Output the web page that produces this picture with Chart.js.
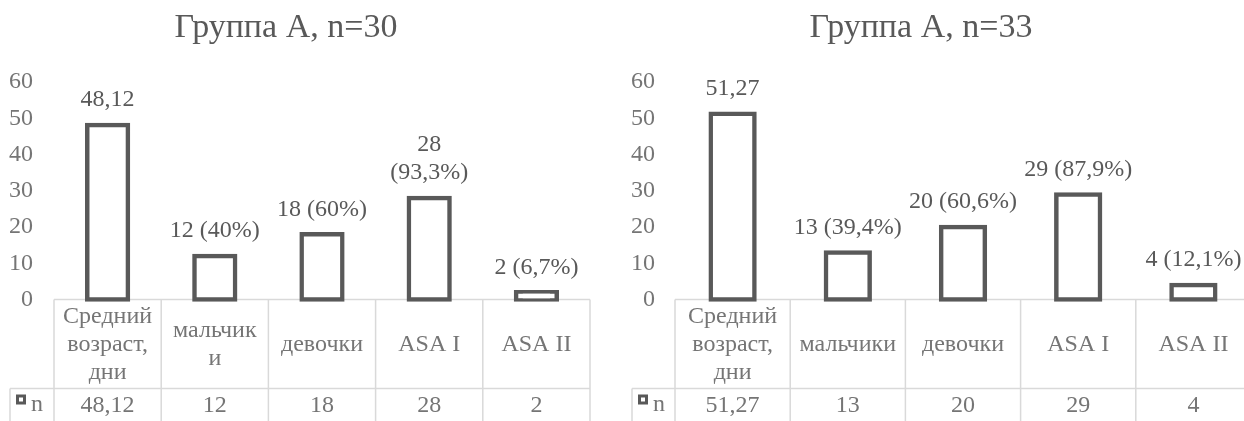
<!DOCTYPE html>
<html>
<head>
<meta charset="utf-8">
<script src="https://cdn.jsdelivr.net/npm/chart.js@4"></script>
<style>
    html, body {
        margin: 0;
        padding: 0;
        width: 1244px;
        height: 421px;
        overflow: hidden;
        background: #ffffff;
    }
    #chartA {
        position: absolute;
        left: -18px;
        top: 0;
    }
    #chartB {
        position: absolute;
        left: 591px;
        top: 0;
    }
</style>
</head>
<body>
<canvas id="chartA" width="612" height="421"></canvas>
<canvas id="chartB" width="664" height="421"></canvas>
<script>
// data
const seriesName = "n";
const yMax = 60;
const yStep = 10;

const titleA = "Группа А, n=30";
const categoriesA = [["Средний", "возраст,", "дни"], ["мальчик", "и"], ["девочки"], ["ASA I"], ["ASA II"]];
const valuesA = [48.12, 12, 18, 28, 2];
const barLabelsA = [["48,12"], ["12 (40%)"], ["18 (60%)"], ["28", "(93,3%)"], ["2 (6,7%)"]];
const tableRowA = ["48,12", "12", "18", "28", "2"];

const titleB = "Группа А, n=33";
const categoriesB = [["Средний", "возраст,", "дни"], ["мальчики"], ["девочки"], ["ASA I"], ["ASA II"]];
const valuesB = [51.27, 13, 20, 29, 4];
const barLabelsB = [["51,27"], ["13 (39,4%)"], ["20 (60,6%)"], ["29 (87,9%)"], ["4 (12,1%)"]];
const tableRowB = ["51,27", "13", "20", "29", "4"];

const FONT = "'Liberation Serif', 'Times New Roman', serif";
const barColor = "#595959";
const textColor = "#595959";
const lightText = "#757575";
const lineColor = "#d9d9d9";
const BORDER = 4.5;

/*Excel style data table under the plot, drawn from the x scale*/
const dataTablePlugin = {
    id: "dataTable",
    beforeDatasetsDraw(chart, args, opts) {
        const ctx = chart.ctx;
        const area = chart.chartArea;
        const xs = chart.scales.x;
        const n = opts.categories.length;
        const colW = xs.getPixelForValue(1) - xs.getPixelForValue(0);
        const top = area.bottom;
        const mid = top + opts.rowHeight;
        const bottom = chart.height + 2;

        ctx.save();
        ctx.strokeStyle = lineColor;
        ctx.lineWidth = 1.5;
        ctx.beginPath();
        ctx.moveTo(area.left, top);
        ctx.lineTo(area.right, top);
        ctx.moveTo(opts.legendLeft, mid);
        ctx.lineTo(area.right, mid);
        for (let i = 0; i <= n; i++) {
            let bx = xs.getPixelForValue(i) - colW / 2;
            ctx.moveTo(bx, top);
            ctx.lineTo(bx, bottom);
        }
        ctx.moveTo(opts.legendLeft, mid);
        ctx.lineTo(opts.legendLeft, bottom);
        ctx.stroke();

        ctx.fillStyle = lightText;
        ctx.font = `24px ${FONT}`;
        ctx.textAlign = "center";
        ctx.textBaseline = "middle";
        const rowMid = (top + mid) / 2 + 1;
        opts.categories.forEach((lines, i) => {
            let cx = xs.getPixelForValue(i);
            let y0 = rowMid - (lines.length - 1) * opts.lineHeight / 2;
            lines.forEach((t, k) => {
                ctx.fillText(t, cx, y0 + k * opts.lineHeight);
            });
            ctx.fillText(opts.row[i], cx, mid + 17);
        });

        // legend key + series name
        const kx = opts.legendLeft + 6;
        const ky = mid + 6;
        ctx.fillStyle = barColor;
        ctx.fillRect(kx, ky, 10, 10);
        ctx.fillStyle = "#ffffff";
        ctx.fillRect(kx + 3, ky + 3, 4, 4);
        ctx.fillStyle = lightText;
        ctx.textAlign = "left";
        ctx.fillText(seriesName, kx + 15, mid + 16);
        ctx.restore();
    },
};

/*Labels above the bars*/
const barLabelPlugin = {
    id: "barLabels",
    afterDatasetsDraw(chart, args, opts) {
        const ctx = chart.ctx;
        ctx.save();
        ctx.fillStyle = textColor;
        ctx.font = `24px ${FONT}`;
        ctx.textAlign = "center";
        ctx.textBaseline = "middle";
        chart.getDatasetMeta(0).data.forEach((bar, i) => {
            let lines = opts.labels[i];
            lines.forEach((t, k) => {
                let y = bar.y - 25 - (lines.length - 1 - k) * 28;
                ctx.fillText(t, bar.x, y);
            });
        });
        ctx.restore();
    },
};

function makeChart(id, title, categories, values, barLabels, tableRow, axisWidth, tickPad, legendLeft) {
    return new Chart(document.getElementById(id), {
        type: "bar",
        data: {
            labels: categories.map((c) => c.join(" ")),
            datasets: [
                {
                    label: seriesName,
                    data: values,
                    backgroundColor: "#ffffff",
                    borderColor: barColor,
                    borderWidth: BORDER,
                    borderSkipped: false,
                    // border centred on the bar edge, like Excel
                    inflateAmount: BORDER / 2,
                    clip: false,
                    barPercentage: 0.38,
                    categoryPercentage: 1,
                },
            ],
        },
        options: {
            responsive: false,
            animation: false,
            layout: {
                padding: { top: 0, left: 0, right: 4, bottom: 121.5 },
            },
            plugins: {
                legend: { display: false },
                tooltip: { enabled: false },
                title: {
                    display: true,
                    text: title,
                    color: textColor,
                    font: { family: FONT, size: 34, weight: "normal", lineHeight: 1.2 },
                    padding: { top: 8, bottom: 33.2 },
                },
                dataTable: {
                    categories: categories,
                    row: tableRow,
                    rowHeight: 89,
                    lineHeight: 28,
                    legendLeft: legendLeft,
                },
                barLabels: {
                    labels: barLabels,
                },
            },
            scales: {
                x: {
                    display: false,
                },
                y: {
                    min: 0,
                    max: yMax,
                    afterFit: (scale) => {
                        scale.width = axisWidth;
                    },
                    grid: { display: false, drawTicks: false },
                    border: { display: false },
                    ticks: {
                        stepSize: yStep,
                        padding: tickPad,
                        color: lightText,
                        font: { family: FONT, size: 24 },
                    },
                },
            },
        },
        plugins: [dataTablePlugin, barLabelPlugin],
    });
}

var chartA = makeChart("chartA", titleA, categoriesA, valuesA, barLabelsA, tableRowA, 72, 21, 28);
var chartB = makeChart("chartB", titleB, categoriesB, valuesB, barLabelsB, tableRowB, 84, 20, 41);
</script>
</body>
</html>
